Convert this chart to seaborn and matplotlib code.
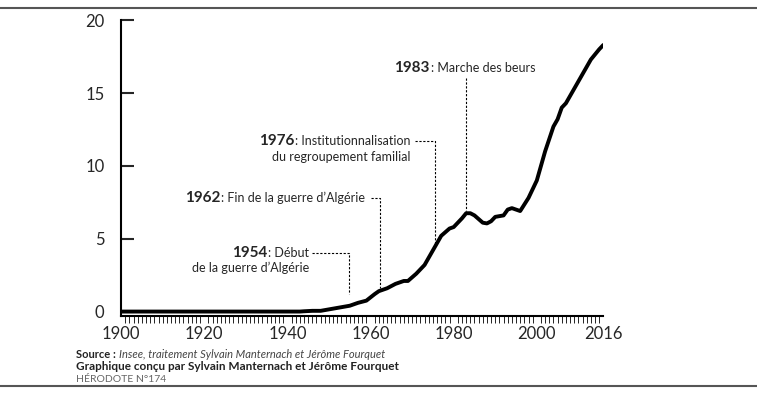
import matplotlib
matplotlib.use("Agg")
import matplotlib.pyplot as plt
import seaborn as sns
import pandas as pd
from matplotlib.lines import Line2D
from matplotlib.transforms import offset_copy

# --- Daten ---
years = [1900, 1943, 1944, 1946, 1948, 1950, 1952, 1955, 1957, 1959, 1961, 1962, 1964, 1966,
         1968, 1969, 1971, 1973, 1975, 1977, 1979, 1980, 1982, 1983, 1984, 1985, 1987, 1988,
         1989, 1990, 1992, 1993, 1994, 1996, 1998, 2000, 2002, 2004, 2005, 2006, 2007, 2009,
         2011, 2013, 2015, 2016]
values = [0, 0, 0.02, 0.05, 0.05, 0.15, 0.25, 0.4, 0.6, 0.75, 1.2, 1.4, 1.6, 1.9,
          2.1, 2.1, 2.6, 3.2, 4.2, 5.2, 5.7, 5.8, 6.4, 6.75, 6.75, 6.6, 6.1, 6.05,
          6.2, 6.5, 6.6, 7.0, 7.1, 6.9, 7.8, 9.0, 11.0, 12.7, 13.2, 14.0, 14.3, 15.3,
          16.3, 17.3, 18.0, 18.3]
xticks = [1900, 1920, 1940, 1960, 1980, 2000, 2016]
yticks = [0, 5, 10, 15, 20]

df = pd.DataFrame({"annee": years, "valeur": values})

sns.set_theme(style="white")
plt.rcParams["font.family"] = ["Lato", "DejaVu Sans"]

fig = plt.figure(figsize=(7.57, 4.04), dpi=100)
ax = fig.add_axes([0.16, 0.218, 0.637, 0.732])
sns.lineplot(data=df, x="annee", y="valeur", ax=ax, color="black", linewidth=2.8)

ax.set_xlim(1900, 2016)
ax.set_ylim(-0.3, 20)
ax.set_xticks(xticks)
ax.set_xticks(range(1900, 2017), minor=True)
ax.set_yticks(yticks)
ax.tick_params(axis="x", which="major", length=0, pad=7, labelsize=12)
ax.tick_params(axis="x", which="minor", length=5, width=0.6, color="black", direction="out", bottom=True)
ax.tick_params(axis="y", length=9, width=1.5, direction="in", left=True, pad=12, labelsize=12)
ax.set_xlabel("")
ax.set_ylabel("")
for s in ["top", "right"]:
    ax.spines[s].set_visible(False)
for s in ["left", "bottom"]:
    ax.spines[s].set_linewidth(1.5)
    ax.spines[s].set_color("black")

dash = dict(color="black", linestyle=(0, (2, 1.5)), linewidth=0.8)
renderer = fig.canvas.get_renderer()


def label(x, y, year, rest, ha="left"):
    # Rest-Text zeichnen, dann Jahreszahl fett direkt links davon
    t = ax.text(x, y, rest, fontsize=9, va="center", ha=ha)
    bb = t.get_window_extent(renderer)
    x0, _ = ax.transData.inverted().transform((bb.x0, 0))
    ax.text(x0, y, year, fontsize=11, fontweight="bold", va="center", ha="right",
            transform=offset_copy(ax.transData, fig=fig, x=-1, y=0, units="dots"))


# 1983
ax.plot([1983, 1983], [16.0, 6.9], **dash)
label(1974.5, 16.7, "1983", ": Marche des beurs")
# 1976
ax.plot([1970.8, 1975.6, 1975.6], [11.7, 11.7, 4.6], **dash)
label(1969.6, 11.7, "1976", ": Institutionnalisation", ha="right")
ax.text(1969.6, 10.6, "du regroupement familial", fontsize=9, va="center", ha="right")
# 1962
ax.plot([1960, 1962.3, 1962.3], [7.8, 7.8, 1.6], **dash)
label(1958.7, 7.8, "1962", ": Fin de la guerre d\u2019Alg\u00e9rie", ha="right")
# 1954
ax.plot([1946, 1954.9, 1954.9], [4.05, 4.05, 1.2], **dash)
label(1945.2, 4.05, "1954", ": D\u00e9but", ha="right")
ax.text(1945.2, 3.0, "de la guerre d\u2019Alg\u00e9rie", fontsize=9, va="center", ha="right")

# Rahmenlinien oben/unten
fig.add_artist(Line2D([0.0, 1.0], [0.98, 0.98], color="#555555", linewidth=1.5))
fig.add_artist(Line2D([0.0, 1.0], [0.045, 0.045], color="#555555", linewidth=1.5))

fig.text(0.1, 0.115, "Source :", fontsize=8, fontweight="bold", color="#222222")
fig.text(0.157, 0.115, "Insee, traitement Sylvain Manternach et J\u00e9r\u00f4me Fourquet",
         fontsize=8, style="italic", color="#444444")
fig.text(0.1, 0.083, "Graphique con\u00e7u par Sylvain Manternach et J\u00e9r\u00f4me Fourquet",
         fontsize=8.5, fontweight="bold", color="#222222")
fig.text(0.1, 0.055, "H\u00c9RODOTE N\u00b0174", fontsize=7.5, color="#666666")

fig.savefig("out.png", dpi=100)
